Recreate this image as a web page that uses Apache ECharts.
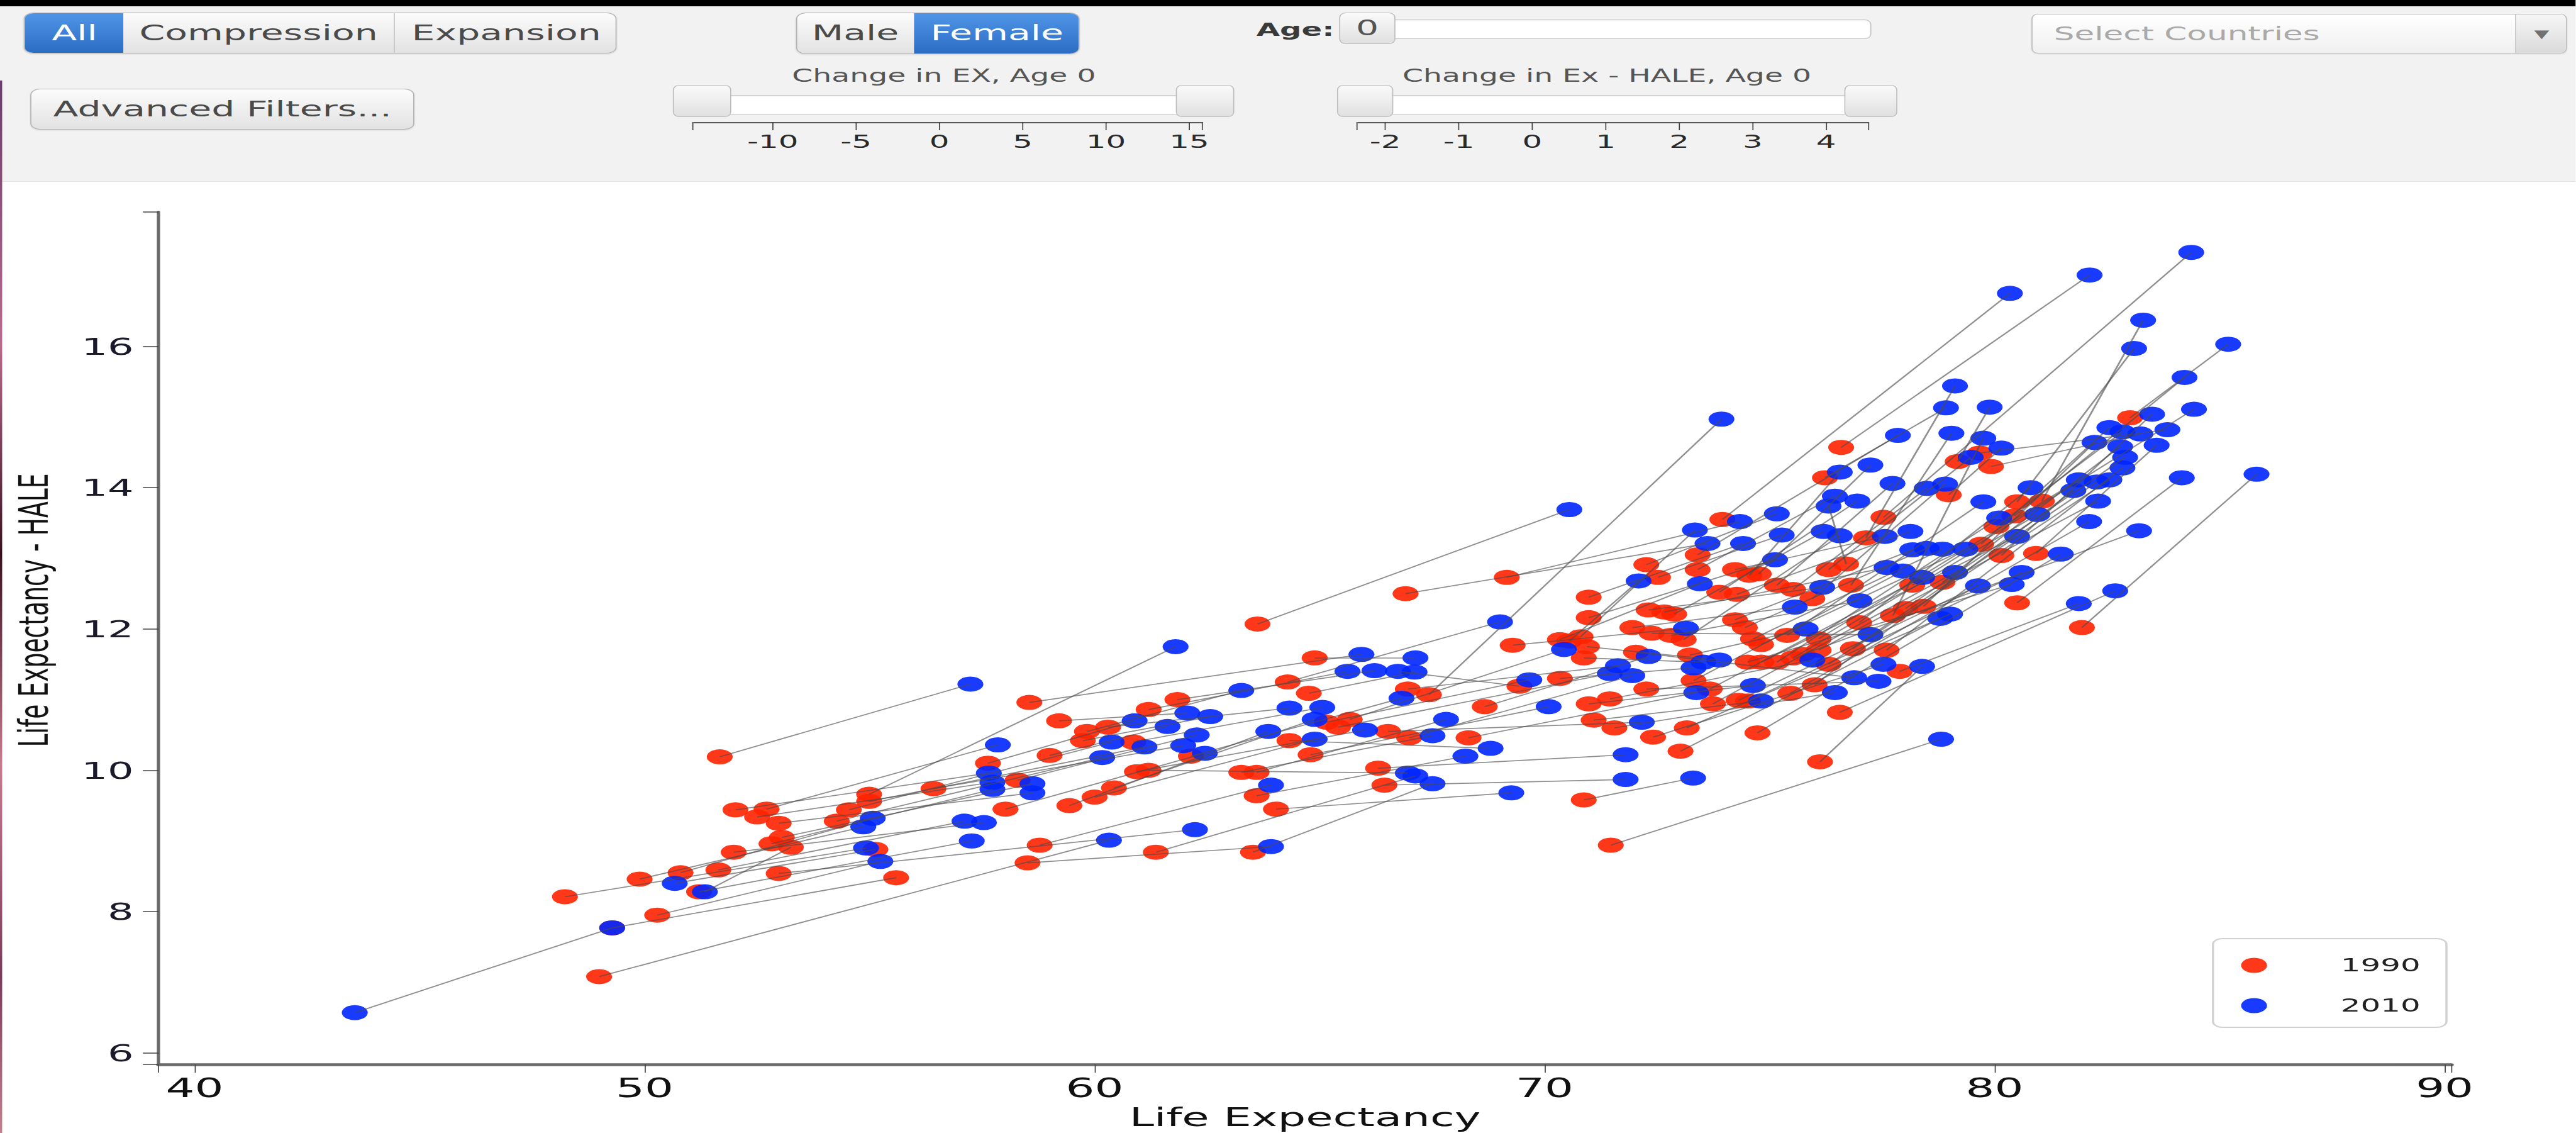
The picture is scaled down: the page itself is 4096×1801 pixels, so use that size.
<!DOCTYPE html>
<html><head><meta charset="utf-8">
<script src="https://cdn.jsdelivr.net/npm/echarts@6/dist/echarts.min.js"></script>
<style>
html,body{margin:0;padding:0;width:4096px;height:1801px;overflow:hidden;background:#fff;}
#page{position:absolute;left:0;top:0;width:2381.4px;height:1801px;transform:scaleX(1.72);transform-origin:0 0;font-family:"DejaVu Sans",sans-serif;}
#topbar{position:absolute;left:0;top:0;width:100%;height:10.4px;background:#000;}
#ctrlbg{position:absolute;left:0;top:10.4px;width:100%;height:278.6px;background:#f2f2f2;border-bottom:1px solid #e4e4e4;box-sizing:border-box;}
#strip{position:absolute;left:0;top:128px;width:2.2px;height:1673px;background:linear-gradient(to bottom,#6a3d6e,#b86a8c 25%,#3a1020 45%,#c77a8e 65%,#7a3a5a 85%,#c08090);}
.abs{position:absolute;box-sizing:border-box;}
.grp{border:1.2px solid #b3b3b3;border-radius:9px/10px;overflow:hidden;background:linear-gradient(#fcfcfc,#e2e2e2);box-shadow:0 1px 2px rgba(0,0,0,0.12);}
.seg{position:absolute;top:0;height:100%;text-align:center;font-size:34px;color:#4a4a4a;white-space:nowrap;}
.sel{background:linear-gradient(#4f95e6,#2c6cc4);color:#fff;}
.sep{border-left:1px solid #c2c2c2;}
.txt{position:absolute;white-space:nowrap;}
.track{background:#fff;border:1.2px solid #c6c6c6;border-radius:6px/8px;box-shadow:inset 0 1px 2px rgba(0,0,0,0.08);}
.handle{background:linear-gradient(#fafafa,#e0e0e0);border:1.2px solid #bdbdbd;border-radius:6px/8px;text-align:center;color:#555;}
.tick{position:absolute;width:1px;height:12.9px;background:#444;}
.tlab{position:absolute;width:60px;text-align:center;font-size:29px;line-height:34px;color:#2a2a2a;}
#chart{position:absolute;left:0;top:289px;width:2381.4px;height:1512px;}
</style></head>
<body>
<div id="page">
  <div id="topbar"></div>
  <div id="ctrlbg"></div>
  <div id="strip"></div>

  <div class="abs grp" style="left:22.4px;top:20.1px;width:547.2px;height:65px;">
    <div class="seg sel" style="left:0;width:91px;line-height:62.6px;">All</div>
    <div class="seg" style="left:91px;width:249.3px;line-height:62.6px;">Compression</div>
    <div class="seg sep" style="left:340.3px;width:206.9px;line-height:62.6px;">Expansion</div>
  </div>
  <div class="abs grp" style="left:28px;top:141.3px;width:355.3px;height:65.1px;">
    <div class="seg" style="left:0;width:100%;line-height:62.7px;">Advanced Filters...</div>
  </div>
  <div class="abs grp" style="left:735.8px;top:20px;width:261.9px;height:66px;">
    <div class="seg" style="left:0;width:107.8px;line-height:63.6px;">Male</div>
    <div class="seg sel" style="left:107.8px;width:154.1px;line-height:63.6px;">Female</div>
  </div>

  <div class="txt" style="left:1161.5px;top:28px;height:40px;line-height:40px;font-size:28px;font-weight:bold;color:#3a3a3a;">Age:</div>
  <div class="abs track" style="left:1262px;top:31.3px;width:467.7px;height:30.5px;"></div>
  <div class="abs handle" style="left:1238px;top:20px;width:52px;height:50px;font-size:33px;line-height:47.6px;">0</div>

  <div class="txt" style="left:622.6px;width:500px;text-align:center;top:100px;height:41px;line-height:41px;font-size:27.5px;color:#555;">Change in EX, Age 0</div>
  <div class="abs track" style="left:653.6px;top:151px;width:466.9px;height:31.3px;"></div>
  <div class="abs handle" style="left:621.9px;top:134.9px;width:53.7px;height:51.4px;"></div>
  <div class="abs handle" style="left:1087.3px;top:134.9px;width:54.2px;height:51.4px;"></div>

  <div class="txt" style="left:1235.5px;width:500px;text-align:center;top:100px;height:41px;line-height:41px;font-size:27.5px;color:#555;">Change in Ex - HALE, Age 0</div>
  <div class="abs track" style="left:1260.5px;top:151px;width:466.9px;height:31.3px;"></div>
  <div class="abs handle" style="left:1236.3px;top:134.9px;width:51.8px;height:51.4px;"></div>
  <div class="abs handle" style="left:1705px;top:134.9px;width:48.5px;height:51.4px;"></div>

  <div id="sliderAxes"></div>

  <div class="abs" style="left:1877.7px;top:21.7px;width:495.8px;height:63.4px;border:1.2px solid #bcbcbc;border-radius:6px/8px;background:linear-gradient(#ffffff,#f0f0f0);box-shadow:0 1px 2px rgba(0,0,0,0.1);overflow:hidden;">
    <div class="txt" style="left:20px;top:0;height:61px;line-height:61px;font-size:30px;color:#a9a9a9;">Select Countries</div>
    <div class="abs" style="left:446.5px;top:0;width:48px;height:61px;border-left:1px solid #c8c8c8;background:linear-gradient(#f6f6f6,#dadada);text-align:center;line-height:61px;font-size:18px;color:#707070;">&#9660;</div>
  </div>

  <div id="chart"></div>
</div>
<script>
// ---------------- data ----------------
const seriesNames = ['1990', '2010'];
const le1990 = [49.28,48.23,48.99,49.89,50.28,50.80,51.21,51.64,51.67,51.98,52.02,52.50,52.71,52.82,52.98,52.98,53.05,53.25,54.27,54.54,54.99,54.99,55.13,55.59,56.42,57.63,58.02,58.29,58.51,58.55,58.78,59.00,59.21,59.44,59.74,59.83,60.00,60.30,60.43,60.86,60.94,61.20,61.20,61.36,61.84,62.14,63.26,63.52,63.60,63.60,63.62,64.03,64.29,64.33,64.76,64.80,64.89,65.16,65.41,65.67,66.30,66.44,66.52,66.91,66.96,66.99,67.43,68.31,68.67,69.16,69.29,69.44,70.34,70.34,70.55,70.80,70.87,70.87,70.94,70.98,70.98,70.98,71.09,71.45,71.47,71.55,71.95,72.03,72.26,72.26,72.31,72.38,72.41,72.52,72.66,72.81,72.88,73.02,73.09,73.16,73.23,73.31,73.40,73.40,73.67,73.74,73.88,73.95,74.23,74.23,74.27,74.31,74.45,74.51,74.52,74.55,74.63,74.73,74.76,74.81,74.81,75.16,75.16,75.39,75.46,75.52,75.52,75.74,75.95,76.00,76.09,76.09,76.12,76.23,76.31,76.31,76.56,76.59,76.70,76.81,76.85,76.99,77.14,77.53,77.60,77.74,77.89,78.02,78.17,78.42,78.84,78.98,79.18,79.67,79.92,79.70,80.04,80.15,80.44,80.50,80.92,81.05,80.50,81.94,83.01];
const hale1990 = [7.77,8.21,7.08,8.46,7.95,8.55,8.28,8.59,10.19,8.84,9.44,9.34,9.45,8.96,8.54,9.25,9.05,8.91,9.28,9.44,9.66,9.56,8.88,8.48,9.74,10.10,9.45,9.86,8.69,10.96,8.94,10.21,10.70,9.50,10.42,10.55,9.62,10.61,9.75,10.40,9.98,10.86,10.00,8.84,11.00,10.20,9.97,8.84,9.97,9.64,12.07,9.45,11.25,10.42,11.09,10.22,11.59,10.68,10.61,10.72,10.03,9.79,10.55,12.50,11.15,10.46,11.07,10.46,10.90,12.73,11.77,11.19,11.85,11.30,11.83,11.89,11.59,9.58,11.75,12.45,12.16,10.94,10.71,11.01,8.94,10.60,12.02,11.67,12.91,11.15,12.27,11.94,10.47,12.73,12.24,11.91,12.21,10.27,11.85,10.60,11.63,11.27,13.05,12.84,11.15,10.94,12.52,13.55,12.84,12.13,12.49,10.99,12.02,11.53,10.98,12.76,11.86,10.53,12.78,11.78,11.53,12.62,11.53,11.91,11.09,12.56,11.59,11.64,12.43,11.21,11.86,11.70,10.12,14.14,12.84,11.50,10.82,14.57,12.92,12.62,11.72,12.09,13.29,13.58,11.70,12.19,11.40,12.29,12.62,12.32,12.66,13.90,14.37,14.49,14.30,13.20,13.45,13.04,13.60,13.80,13.07,13.81,12.37,12.02,14.99];
const le2010 = [43.56,54.92,60.32,54.86,55.24,55.07,57.27,57.11,57.24,57.54,57.65,57.73,57.85,57.73,62.23,58.62,58.62,51.34,60.17,60.38,61.80,61.11,50.67,49.28,61.97,60.89,62.45,62.27,63.92,65.93,63.92,61.62,62.06,63.86,62.57,63.26,64.89,64.33,64.89,65.06,66.01,65.62,66.96,67.13,66.22,66.82,67.51,67.51,67.81,68.24,70.55,69.26,69.01,68.80,67.11,70.09,67.13,69.66,71.45,70.43,71.80,71.80,72.16,73.62,71.63,71.95,73.93,73.37,72.31,74.34,73.14,66.74,73.45,73.31,72.09,73.34,73.53,73.30,73.88,74.41,75.12,74.63,74.81,75.95,78.81,76.45,75.56,76.88,75.16,77.42,76.17,77.24,77.53,75.27,77.60,77.00,76.20,78.79,76.56,79.01,75.80,77.96,77.85,76.45,78.39,79.12,76.95,80.34,77.56,78.17,78.13,79.63,78.49,80.38,80.60,76.56,78.84,81.47,77.24,79.35,80.50,77.73,80.10,79.75,82.10,78.49,80.95,83.21,78.90,81.75,81.87,82.30,78.39,78.92,79.47,82.27,82.68,82.11,76.31,79.04,82.55,80.80,79.12,84.37,82.84,79.75,81.87,82.90,84.43,82.22,82.79,80.15,79.89,83.84,83.24,82.55,82.84,83.50,84.22,83.10,83.60,83.30,84.16,85.82,85.19];
const hale2010 = [6.57,8.90,9.01,9.20,8.71,9.32,9.00,9.28,11.22,9.26,9.96,9.83,10.36,9.73,9.16,9.68,9.81,8.28,10.18,10.40,11.75,10.33,8.40,7.77,10.35,10.70,10.24,10.50,8.92,11.64,9.79,10.62,10.81,10.55,10.76,11.13,10.44,10.88,10.72,10.89,10.57,11.40,9.96,9.92,11.41,11.02,10.49,9.81,10.72,10.20,13.69,9.68,12.10,10.31,11.39,10.90,11.59,11.28,11.37,11.71,10.22,9.87,10.68,13.21,11.48,11.34,14.97,11.10,11.61,13.52,12.01,11.40,12.64,11.45,12.68,13.40,11.53,9.89,11.56,13.21,12.98,11.20,10.98,11.56,10.44,11.10,12.31,11.31,13.63,11.26,12.59,11.92,11.50,13.33,12.87,12.40,13.38,12.15,13.32,12.21,12.00,12.82,14.74,13.88,12.73,12.80,13.81,16.75,13.31,13.12,13.38,12.61,13.14,12.63,12.80,14.22,13.13,13.06,14.32,13.13,13.31,14.06,13.57,13.80,13.52,13.99,13.62,13.39,14.05,13.96,14.11,13.81,11.47,15.13,14.43,14.08,12.54,17.01,13.74,14.77,14.11,14.00,15.44,17.33,14.28,14.70,12.36,14.43,15.11,14.64,14.58,14.56,15.14,14.82,14.76,14.85,14.79,15.04,15.56,15.97,14.60,16.37,14.14,14.19,16.03];
const xTicks = [40, 50, 60, 70, 80, 90];
const yTicks = [6, 8, 10, 12, 14, 16];
const xDomain = [39.2, 90.15];
const yDomain = [5.836, 17.906];
const exTicks = [-10, -5, 0, 5, 10, 15];
const haleTicks = [-2, -1, 0, 1, 2, 3, 4];

// ---------------- slider scales (UI chrome) ----------------
(function () {
  const host = document.getElementById('sliderAxes');
  function axis(x0, x1, zeroX, unit, vals) {
    const line = document.createElement('div');
    line.className = 'abs';
    line.style.cssText = 'left:' + x0 + 'px;top:194.3px;width:' + (x1 - x0) + 'px;height:1.6px;background:#555;';
    host.appendChild(line);
    const xs = [x0, x1].concat(vals.map(v => zeroX + v * unit));
    xs.forEach(x => {
      const t = document.createElement('div');
      t.className = 'tick';
      t.style.left = (x - 0.5) + 'px';
      t.style.top = '194.3px';
      host.appendChild(t);
    });
    vals.forEach(v => {
      const l = document.createElement('div');
      l.className = 'tlab';
      l.style.left = (zeroX + v * unit - 30) + 'px';
      l.style.top = '207.8px';
      l.textContent = String(v);
      host.appendChild(l);
    });
  }
  axis(640.5, 1111.6, 868.4, 15.40, exTicks);
  axis(1254.9, 1727.4, 1416.5, 67.93, haleTicks);
})();

// ---------------- chart ----------------
const chart = echarts.init(document.getElementById('chart'), null, { renderer: 'svg' });
const pts1990 = le1990.map((x, i) => [x, hale1990[i]]);
const pts2010 = le2010.map((x, i) => [x, hale2010[i]]);
const links = le1990.map((x, i) => ({ coords: [[x, hale1990[i]], [le2010[i], hale2010[i]]] }));
const FONT = 'DejaVu Sans';

chart.setOption({
  animation: false,
  textStyle: { fontFamily: FONT },
  grid: { left: 146.6, right: 114.8, top: 47.5, bottom: 106.7, containLabel: false },
  xAxis: {
    type: 'value', min: xDomain[0], max: xDomain[1],
    splitLine: { show: false },
    axisLine: { show: true, onZero: false, lineStyle: { color: '#6a6a6a', width: 4.5 } },
    axisTick: { show: true, length: 13, lineStyle: { color: '#444', width: 1 },
      customValues: [xDomain[0]].concat(xTicks, [xDomain[1]]) },
    axisLabel: { customValues: xTicks, fontSize: 42, color: '#111', margin: 16, fontFamily: FONT },
    name: 'Life Expectancy', nameLocation: 'middle', nameGap: 58,
    nameTextStyle: { fontSize: 41, color: '#111', fontFamily: FONT }
  },
  yAxis: {
    type: 'value', min: yDomain[0], max: yDomain[1],
    splitLine: { show: false },
    axisLine: { show: true, onZero: false, lineStyle: { color: '#6a6a6a', width: 3 } },
    axisTick: { show: true, length: 14.5, lineStyle: { color: '#444', width: 1.5 },
      customValues: [yDomain[0]].concat(yTicks, [yDomain[1]]) },
    axisLabel: { customValues: yTicks, fontSize: 38, color: '#1a1a2a', margin: 23, fontFamily: FONT }
  },
  legend: {
    data: seriesNames, orient: 'vertical', left: 2045.8, top: 1203,
    icon: 'circle', itemWidth: 24, itemHeight: 24, itemGap: 35,
    padding: [28, 24, 20, 26], backgroundColor: '#fff',
    borderColor: '#d2d2d2', borderWidth: 2, borderRadius: 9,
    selectedMode: false,
    textStyle: { fontSize: 29, color: '#222', padding: [0, 0, 0, 63], lineHeight: 24, fontFamily: FONT }
  },
  graphic: [{
    type: 'text', x: 31.5, y: 681, rotation: Math.PI / 2, silent: true,
    style: { text: 'Life Expectancy - HALE', fontSize: 37.7, fontFamily: FONT, fill: '#111',
      align: 'center', verticalAlign: 'middle', textAlign: 'center', textVerticalAlign: 'middle' }
  }],
  series: [
    { type: 'scatter', name: seriesNames[0], data: pts1990, symbol: 'circle', symbolSize: 24,
      itemStyle: { color: '#ff2200', opacity: 0.9 }, z: 2, silent: true },
    { type: 'scatter', name: seriesNames[1], data: pts2010, symbol: 'circle', symbolSize: 24,
      itemStyle: { color: '#0026ff', opacity: 0.9 }, z: 2, silent: true },
    { type: 'lines', coordinateSystem: 'cartesian2d', data: links, polyline: false,
      symbol: 'none', silent: true, z: 3,
      lineStyle: { color: '#4a4a4a', opacity: 0.62, width: 1.7, curveness: 0 } }
  ]
});
</script>
</body></html>
